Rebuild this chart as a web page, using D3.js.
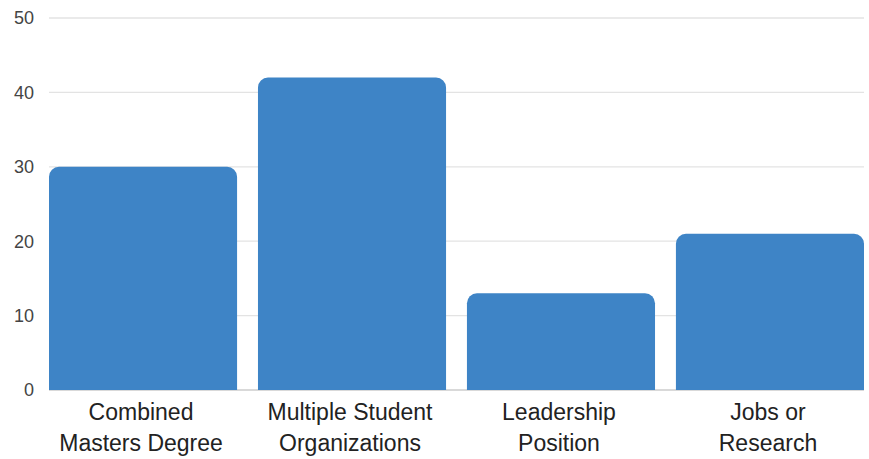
<!DOCTYPE html>
<html>
<head>
<meta charset="utf-8">
<script src="https://cdn.jsdelivr.net/npm/d3@7"></script>
<style>
  body { margin: 0; background: #fff; }
  svg { display: block; }
  text { font-family: Arial, "Liberation Sans", sans-serif; }
</style>
</head>
<body>
<svg id="chart" width="869" height="459"></svg>
<script>
const categories = [["Combined", "Masters Degree"], ["Multiple Student", "Organizations"], ["Leadership", "Position"], ["Jobs or", "Research"]];
const values = [30, 42, 13, 21];
const yTicks = [0, 10, 20, 30, 40, 50];

const svg = d3.select("#chart");
const margin = { top: 18, right: 5, bottom: 69, left: 49 };
const width = 869 - margin.left - margin.right;
const height = 459 - margin.top - margin.bottom;

const g = svg.append("g").attr("transform", `translate(${margin.left},${margin.top})`);

const x = d3.scaleBand()
    .domain(d3.range(values.length))
    .range([0, width])
    .paddingInner(0.1)
    .paddingOuter(0);

const y = d3.scaleLinear().domain([0, 50]).range([height, 0]);

//gridlines
g.selectAll("line.grid")
    .data(yTicks)
    .enter()
    .append("line")
    .attr("class", "grid")
    .attr("x1", 0)
    .attr("x2", width)
    .attr("y1", d => y(d))
    .attr("y2", d => y(d))
    .attr("stroke", d => d === 0 ? "#cccccc" : "#e3e3e3")
    .attr("stroke-width", 1.3);

//y tick labels
g.selectAll("text.ytick")
    .data(yTicks)
    .enter()
    .append("text")
    .attr("class", "ytick")
    .attr("x", -15)
    .attr("y", d => y(d))
    .attr("dy", "0.35em")
    .attr("text-anchor", "end")
    .style("font-size", "18px")
    .style("fill", "#444")
    .text(d => d);

//bars with rounded top corners
const r = 10;
g.selectAll("path.bar")
    .data(values)
    .enter()
    .append("path")
    .attr("class", "bar")
    .attr("fill", "#3e84c6")
    .attr("d", (d, i) => {
        const x0 = x(i), x1 = x(i) + x.bandwidth();
        const y0 = y(0), y1 = y(d);
        return `M${x0},${y0}V${y1 + r}A${r},${r} 0 0 1 ${x0 + r},${y1}H${x1 - r}A${r},${r} 0 0 1 ${x1},${y1 + r}V${y0}Z`;
    });

//category labels
const labels = g.selectAll("text.xlabel")
    .data(categories)
    .enter()
    .append("text")
    .attr("class", "xlabel")
    .attr("text-anchor", "middle")
    .attr("x", (d, i) => x(i) + x.bandwidth() / 2 - 2)
    .attr("y", height + 30)
    .style("font-size", "23px")
    .style("fill", "#222");

labels.selectAll("tspan")
    .data(d => d)
    .enter()
    .append("tspan")
    .attr("x", function () { return d3.select(this.parentNode).attr("x"); })
    .attr("dy", (d, i) => i === 0 ? 0 : 31)
    .text(d => d);
</script>
</body>
</html>
